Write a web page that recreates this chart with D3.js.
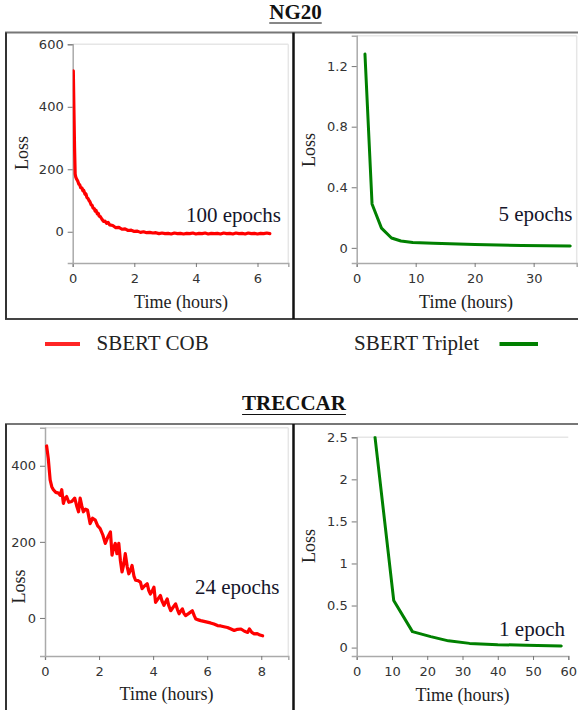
<!DOCTYPE html>
<html>
<head>
<meta charset="utf-8">
<script src="https://cdn.jsdelivr.net/npm/d3@7"></script>
<style>
  html, body { margin: 0; padding: 0; background: #fff; }
  svg { display: block; }
</style>
</head>
<body>
<div id="chart"></div>
<script>
// ---------------- DATA ----------------
const sectionTitles = ["NG20", "TRECCAR"];
const seriesNames = ["SBERT COB", "SBERT Triplet"];
const seriesColors = ["#ff0000", "#008000"];
const xLabel = "Time (hours)";
const yLabel = "Loss";

// NG20 – SBERT COB: [time (hours), loss]
const ng20Cob = [
  [0.02,515],[0.04,390],[0.06,270],[0.08,185],[0.10,175],[0.13,168],[0.16,163],[0.20,152],
  [0.23,150],[0.26,141],[0.30,140],[0.33,131],[0.36,132],[0.40,120],[0.43,121],[0.46,110],
  [0.50,106],[0.53,100],[0.56,96],[0.60,86],[0.63,85],[0.66,76],[0.70,74],[0.73,66],
  [0.76,68],[0.80,57],[0.83,59],[0.86,50],[0.90,48],[0.95,40],[1.00,33],[1.05,34],
  [1.10,27],[1.15,30],[1.20,22],[1.30,20],[1.40,13],[1.50,14],[1.60,8],[1.70,9],
  [1.80,4],[1.90,5],[2.00,1],[2.10,2],[2.20,-2],[2.30,0],[2.40,-3],[2.50,-2],
  [2.60,-4],[2.70,-3],[2.80,-6],[2.90,-4],[3.00,-6],[3.10,-5],[3.20,-7],[3.30,-4],
  [3.40,-6],[3.50,-5],[3.60,-7],[3.70,-5],[3.80,-6],[3.90,-4],[4.00,-7],[4.10,-5],
  [4.20,-6],[4.30,-4],[4.40,-7],[4.50,-5],[4.60,-6],[4.70,-5],[4.80,-7],[4.90,-4],
  [5.00,-6],[5.10,-5],[5.20,-7],[5.30,-4],[5.40,-6],[5.50,-5],[5.60,-7],[5.70,-4],
  [5.80,-6],[5.90,-5],[6.00,-7],[6.10,-5],[6.20,-6],[6.30,-4],[6.40,-6]
];
// NG20 – SBERT Triplet
const ng20Triplet = [
  [1.4,1.28],[2.6,0.29],[4.2,0.13],[5.9,0.065],[7.5,0.045],[9.5,0.035],
  [13,0.03],[20,0.022],[28,0.016],[36.2,0.012]
];
// TRECCAR – SBERT COB
const treccarCob = [
  [0.06,452],[0.12,420],[0.19,363],[0.25,345],[0.31,337],[0.40,330],[0.50,328],[0.56,322],
  [0.62,337],[0.68,301],[0.74,315],[0.80,319],[0.88,304],[0.99,306],[1.10,315],[1.17,295],
  [1.24,279],[1.30,315],[1.36,295],[1.42,279],[1.50,286],[1.57,284],[1.67,248],[1.76,262],
  [1.86,257],[1.95,242],[2.04,235],[2.14,218],[2.23,196],[2.32,212],[2.42,226],[2.48,165],
  [2.54,185],[2.60,196],[2.66,169],[2.73,196],[2.79,150],[2.85,121],[2.91,140],[2.97,169],
  [3.04,135],[3.10,116],[3.16,125],[3.22,138],[3.29,110],[3.35,99],[3.44,98],[3.53,94],
  [3.59,77],[3.68,84],[3.78,90],[3.84,72],[3.90,63],[3.96,70],[4.03,81],[4.09,41],
  [4.18,50],[4.27,59],[4.33,44],[4.40,33],[4.46,42],[4.52,50],[4.58,32],[4.65,19],
  [4.74,28],[4.83,37],[4.90,22],[4.96,11],[5.02,18],[5.08,24],[5.14,12],[5.20,6],
  [5.32,12],[5.45,19],[5.52,6],[5.58,-3],[5.67,-5],[5.76,-7],[5.88,-9],[6.00,-11],
  [6.12,-13],[6.25,-16],[6.38,-20],[6.50,-21],[6.62,-23],[6.75,-25],[6.88,-29],[7.00,-33],
  [7.12,-30],[7.25,-29],[7.38,-35],[7.50,-38],[7.56,-29],[7.65,-38],[7.74,-42],[7.85,-41],
  [7.95,-45],[8.05,-47]
];
// TRECCAR – SBERT Triplet
const treccarTriplet = [
  [5.2,2.5],[10.5,0.56],[15.8,0.19],[21,0.13],[26,0.08],[32,0.05],
  [40,0.035],[48,0.028],[58,0.02]
];

const ng20CobXTicks = [0,2,4,6],       ng20CobYTicks = [0,200,400,600];
const ng20TripXTicks = [0,10,20,30],   ng20TripYTicks = [0,0.4,0.8,1.2];
const trecCobXTicks = [0,2,4,6,8],     trecCobYTicks = [0,200,400];
const trecTripXTicks = [0,10,20,30,40,50,60], trecTripYTicks = [0,0.5,1,1.5,2,2.5];
const epochNotes = ["100 epochs", "5 epochs", "24 epochs", "1 epoch"];

// ---------------- DRAWING ----------------
const W = 578, H = 710;
const svg = d3.select("#chart").append("svg").attr("width", W).attr("height", H);
const SERIF = "'Liberation Serif', 'Times New Roman', serif";
const SANS = "'DejaVu Sans', Verdana, sans-serif";

// Section boxes
function sectionBox(top, bottom) {
  if (bottom !== null) {
    svg.append("line").attr("x1", 5).attr("x2", W).attr("y1", bottom).attr("y2", bottom)
      .attr("stroke", "#444").attr("stroke-width", 2);
  }
  const b = bottom === null ? H : bottom;
  svg.append("line").attr("x1", 5).attr("x2", W).attr("y1", top).attr("y2", top)
    .attr("stroke", "#777").attr("stroke-width", 2);
  svg.append("line").attr("x1", 6).attr("x2", 6).attr("y1", top).attr("y2", b)
    .attr("stroke", "#333").attr("stroke-width", 2);
  svg.append("line").attr("x1", 293.5).attr("x2", 293.5).attr("y1", top).attr("y2", b)
    .attr("stroke", "#111").attr("stroke-width", 2.5);
}
sectionBox(32.5, 319);
sectionBox(424, null);

// Titles
function title(text, cx, baseline, underlineY) {
  const t = svg.append("text").attr("x", cx).attr("y", baseline)
    .attr("text-anchor", "middle").attr("font-family", SERIF)
    .attr("font-weight", "bold").attr("font-size", 21).attr("fill", "#111").text(text);
  const w = t.node().getComputedTextLength();
  svg.append("line").attr("x1", cx - w / 2).attr("x2", cx + w / 2)
    .attr("y1", underlineY).attr("y2", underlineY).attr("stroke", "#111").attr("stroke-width", 1.2);
}
title(sectionTitles[0], 295.5, 19, 23);
title(sectionTitles[1], 294, 410, 414.5);

// Legend
svg.append("line").attr("x1", 45).attr("x2", 80).attr("y1", 344).attr("y2", 344)
  .attr("stroke", seriesColors[0]).attr("stroke-width", 4).attr("opacity", 0.85);
svg.append("text").attr("x", 96.5).attr("y", 350).attr("font-family", SERIF)
  .attr("font-size", 21).attr("fill", "#222").text(seriesNames[0]);
svg.append("text").attr("x", 354).attr("y", 350).attr("font-family", SERIF)
  .attr("font-size", 21).attr("fill", "#222").text(seriesNames[1]);
svg.append("line").attr("x1", 499.5).attr("x2", 538).attr("y1", 344).attr("y2", 344)
  .attr("stroke", seriesColors[1]).attr("stroke-width", 4);

let clipId = 0;
function panel(cfg) {
  const x = d3.scaleLinear().domain(cfg.xDomain).range(cfg.xRange);
  const y = d3.scaleLinear().domain(cfg.yDomain).range(cfg.yRange);
  const g = svg.append("g");
  const [x0, x1] = cfg.xRange, [y0, y1] = cfg.yRange; // y0 bottom, y1 top

  // light frame (top / right)
  g.append("line").attr("x1", x0).attr("x2", x1).attr("y1", y1).attr("y2", y1)
    .attr("stroke", "#e6e6e6").attr("stroke-width", 1.5);
  if (cfg.rightFrame) {
    g.append("line").attr("x1", x1).attr("x2", x1).attr("y1", y1).attr("y2", y0)
      .attr("stroke", "#e6e6e6").attr("stroke-width", 1.5);
  }

  // axes
  const fmt = v => String(v);
  const xa = g.append("g").attr("transform", `translate(0,${y0})`)
    .call(d3.axisBottom(x).tickValues(cfg.xTicks).tickFormat(fmt).tickSizeOuter(0).tickSize(4).tickPadding(7));
  const ya = g.append("g").attr("transform", `translate(${x0},0)`)
    .call(d3.axisLeft(y).tickValues(cfg.yTicks).tickFormat(fmt).tickSizeOuter(0).tickSize(5).tickPadding(4));
  [xa, ya].forEach(a => {
    a.select(".domain").attr("stroke", "#aaa").attr("stroke-width", 1.5);
    a.selectAll(".tick line").attr("stroke", "#777").attr("stroke-width", 1);
    a.selectAll(".tick text").attr("font-family", SANS).attr("font-size", 13).attr("fill", "#333");
  });

  // clip
  const id = "clip" + (clipId++);
  svg.append("clipPath").attr("id", id).append("rect")
    .attr("x", x0).attr("y", y1 - 1).attr("width", x1 - x0).attr("height", y0 - y1 + 1);

  g.append("path").datum(cfg.data).attr("clip-path", `url(#${id})`)
    .attr("fill", "none").attr("stroke", cfg.color).attr("stroke-width", cfg.width || 3)
    .attr("stroke-linejoin", "round").attr("stroke-linecap", "round")
    .attr("d", d3.line().x(d => x(d[0])).y(d => y(d[1])));

  // annotation
  svg.append("text").attr("x", cfg.note[1]).attr("y", cfg.note[2]).attr("text-anchor", "end")
    .attr("font-family", SERIF).attr("font-size", 21).attr("fill", "#15152a").text(cfg.note[0]);

  // axis labels
  svg.append("text").attr("x", cfg.xLabelPos[0]).attr("y", cfg.xLabelPos[1]).attr("text-anchor", "middle")
    .attr("font-family", SERIF).attr("font-size", 18).attr("fill", "#222").text(xLabel);
  svg.append("text").attr("transform", `translate(${cfg.yLabelPos[0]},${cfg.yLabelPos[1]}) rotate(-90)`)
    .attr("text-anchor", "middle").attr("font-family", SERIF).attr("font-size", 18)
    .attr("fill", "#222").text(yLabel);
}

panel({ data: ng20Cob, color: seriesColors[0], width: 3.2,
  xDomain: [0, 7], xRange: [72.7, 288.3], yDomain: [-100, 600], yRange: [263, 44.3],
  xTicks: ng20CobXTicks, yTicks: ng20CobYTicks, rightFrame: true,
  note: [epochNotes[0], 281, 221.5], xLabelPos: [181, 308], yLabelPos: [27.5, 153] });
panel({ data: ng20Triplet, color: seriesColors[1], width: 3,
  xDomain: [0, 37.3], xRange: [356.7, 576.7], yDomain: [-0.1, 1.4], yRange: [263, 35.8],
  xTicks: ng20TripXTicks, yTicks: ng20TripYTicks, rightFrame: true,
  note: [epochNotes[1], 572.5, 220.5], xLabelPos: [466, 308], yLabelPos: [315, 150] });
panel({ data: treccarCob, color: seriesColors[0], width: 3.2,
  xDomain: [0, 9], xRange: [45, 288.3], yDomain: [-100, 500], yRange: [656, 427.7],
  xTicks: trecCobXTicks, yTicks: trecCobYTicks, rightFrame: true,
  note: [epochNotes[2], 279.5, 594], xLabelPos: [166.5, 700], yLabelPos: [25, 586.5] });
panel({ data: treccarTriplet, color: seriesColors[1], width: 3,
  xDomain: [0, 60], xRange: [356.7, 568.3], yDomain: [-0.1, 2.5], yRange: [656, 437.3],
  xTicks: trecTripXTicks, yTicks: trecTripYTicks, rightFrame: false,
  note: [epochNotes[3], 565, 636], xLabelPos: [462.5, 700.5], yLabelPos: [315, 546] });
</script>
</body>
</html>
